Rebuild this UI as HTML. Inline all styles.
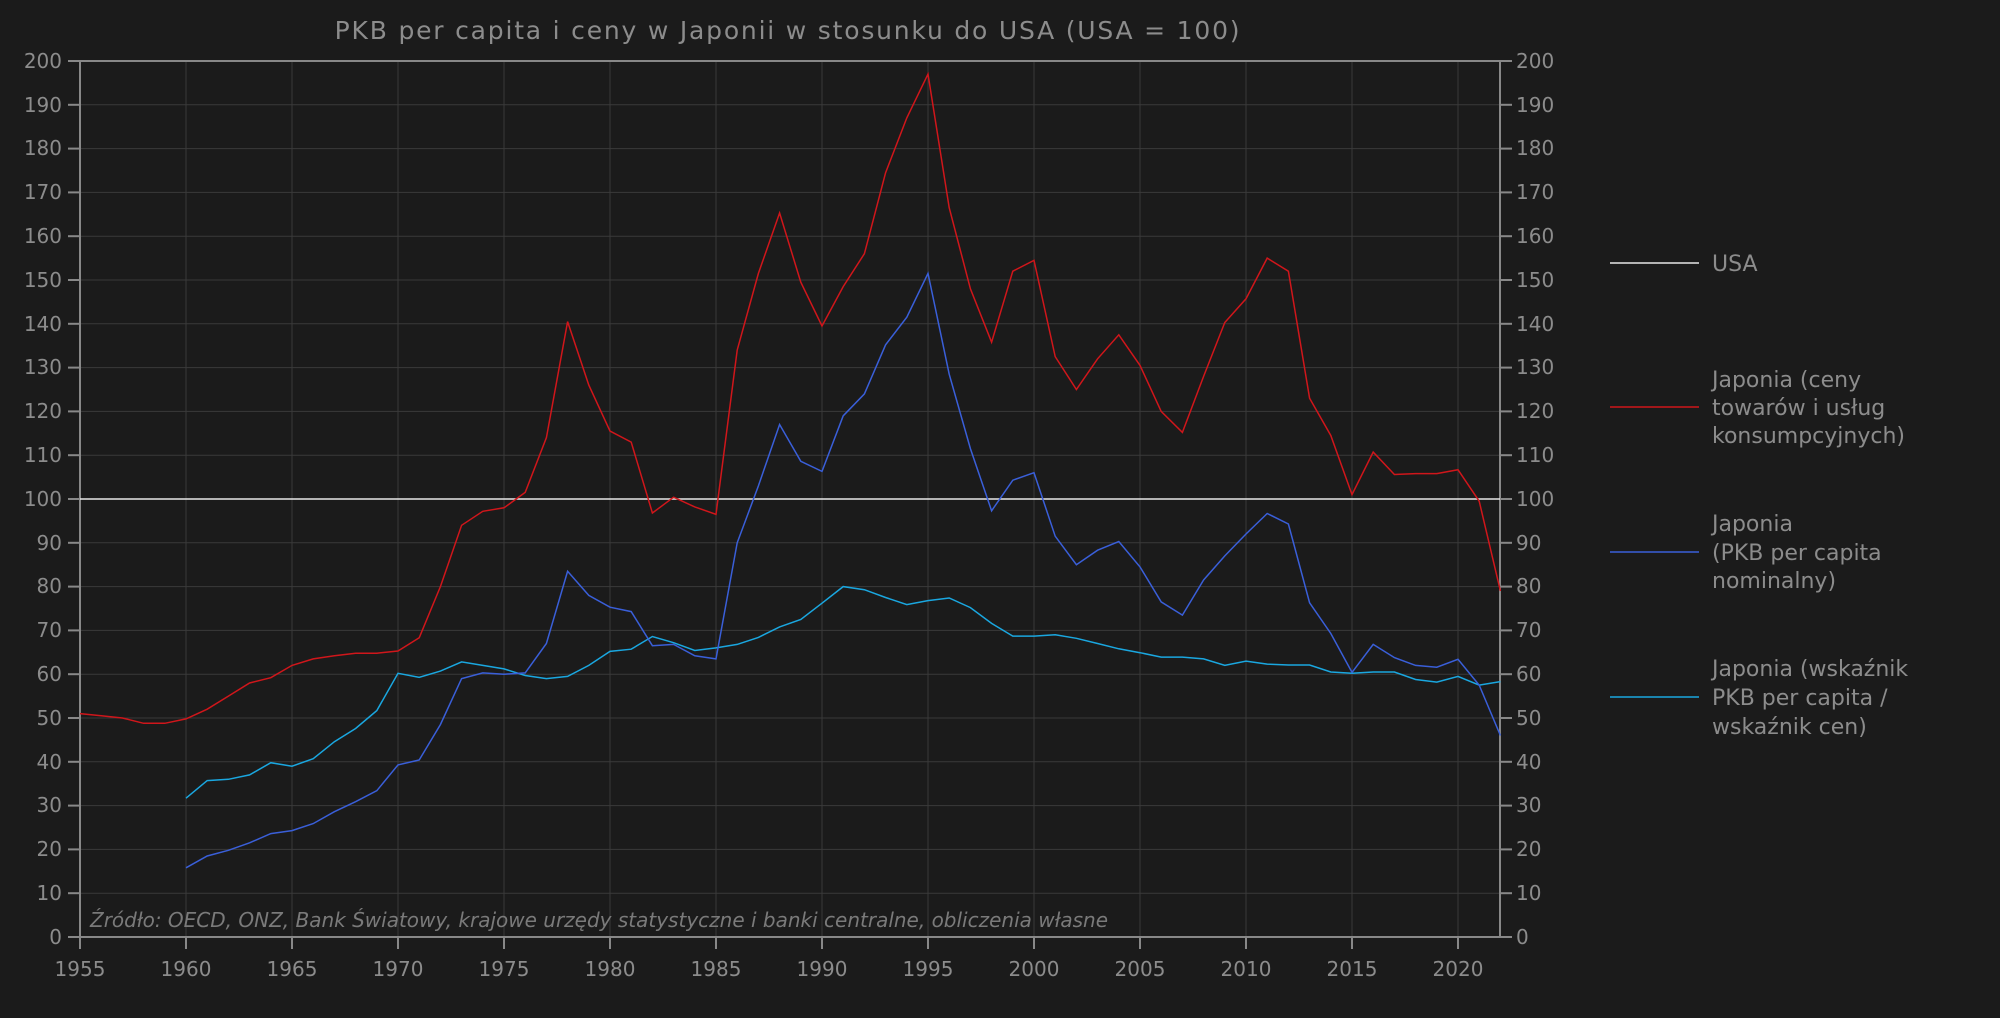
<!DOCTYPE html>
<html><head><meta charset="utf-8"><style>
html,body{margin:0;padding:0;background:#1b1b1b;}
svg{display:block;font-family:"DejaVu Sans","Liberation Sans",sans-serif;}
</style></head><body>
<svg id="s" width="2000" height="1018" viewBox="0 0 2000 1018">
<rect width="2000" height="1018" fill="#1b1b1b"/>
<g id="grid" stroke="#3a3a3a" stroke-width="1"></g>
<text x="788" y="39" text-anchor="middle" fill="#8c8c8c" font-size="25" letter-spacing="1.8">PKB per capita i ceny w Japonii w stosunku do USA (USA = 100)</text>
<g fill="#8c8c8c" font-size="20" text-anchor="end">
<text x="62" y="68">200</text><text x="62" y="112">190</text><text x="62" y="155">180</text><text x="62" y="199">170</text><text x="62" y="243">160</text><text x="62" y="287">150</text><text x="62" y="331">140</text><text x="62" y="374">130</text><text x="62" y="418">120</text><text x="62" y="462">110</text><text x="62" y="506">100</text><text x="62" y="550">90</text><text x="62" y="593">80</text><text x="62" y="637">70</text><text x="62" y="681">60</text><text x="62" y="725">50</text><text x="62" y="769">40</text><text x="62" y="812">30</text><text x="62" y="856">20</text><text x="62" y="900">10</text><text x="62" y="944">0</text>
</g>
<g fill="#8c8c8c" font-size="20" text-anchor="start">
<text x="1516" y="68">200</text><text x="1516" y="112">190</text><text x="1516" y="155">180</text><text x="1516" y="199">170</text><text x="1516" y="243">160</text><text x="1516" y="287">150</text><text x="1516" y="331">140</text><text x="1516" y="374">130</text><text x="1516" y="418">120</text><text x="1516" y="462">110</text><text x="1516" y="506">100</text><text x="1516" y="550">90</text><text x="1516" y="593">80</text><text x="1516" y="637">70</text><text x="1516" y="681">60</text><text x="1516" y="725">50</text><text x="1516" y="769">40</text><text x="1516" y="812">30</text><text x="1516" y="856">20</text><text x="1516" y="900">10</text><text x="1516" y="944">0</text>
</g>
<g fill="#8c8c8c" font-size="20" text-anchor="middle">
<text x="80" y="976">1955</text><text x="186" y="976">1960</text><text x="292" y="976">1965</text><text x="398" y="976">1970</text><text x="504" y="976">1975</text><text x="610" y="976">1980</text><text x="716" y="976">1985</text><text x="822" y="976">1990</text><text x="928" y="976">1995</text><text x="1034" y="976">2000</text><text x="1140" y="976">2005</text><text x="1246" y="976">2010</text><text x="1352" y="976">2015</text><text x="1458" y="976">2020</text>
</g>
<g id="axes" stroke="#888" stroke-width="2" fill="none"></g>
<text x="90" y="927" fill="#7a7a7a" font-size="20" font-style="italic">Źródło: OECD, ONZ, Bank Światowy, krajowe urzędy statystyczne i banki centralne, obliczenia własne</text>
<line x1="80" y1="499" x2="1500" y2="499" stroke="#e8e8e8" stroke-width="1.5"/>
<polyline id="cy" fill="none" stroke="#1aa7e0" stroke-width="1.5"/>
<polyline id="bl" fill="none" stroke="#3a5fd9" stroke-width="1.5"/>
<polyline id="rd" fill="none" stroke="#d0161b" stroke-width="1.5"/>
<g font-size="22" fill="#8c8c8c">
<line x1="1610" y1="263" x2="1699" y2="263" stroke="#e8e8e8" stroke-width="1.5"/>
<text x="1712" y="271">USA</text>
<line x1="1610" y1="407" x2="1699" y2="407" stroke="#d0161b" stroke-width="1.5"/>
<text x="1712" y="387">Japonia (ceny</text><text x="1712" y="415">towarów i usług</text><text x="1712" y="443">konsumpcyjnych)</text>
<line x1="1610" y1="552" x2="1699" y2="552" stroke="#3a5fd9" stroke-width="1.5"/>
<text x="1712" y="531">Japonia</text><text x="1712" y="560">(PKB per capita</text><text x="1712" y="588">nominalny)</text>
<line x1="1610" y1="697" x2="1699" y2="697" stroke="#1aa7e0" stroke-width="1.5"/>
<text x="1712" y="676">Japonia (wskaźnik</text><text x="1712" y="705">PKB per capita /</text><text x="1712" y="734">wskaźnik cen)</text>
</g>
</svg>
<script>
var X=function(y){return 80+(y-1955)*21.2},Y=function(v){return 937-v*4.38};
var ns="http://www.w3.org/2000/svg";
function L(g,x1,y1,x2,y2){var l=document.createElementNS(ns,"line");l.setAttribute("x1",x1);l.setAttribute("y1",y1);l.setAttribute("x2",x2);l.setAttribute("y2",y2);document.getElementById(g).appendChild(l);}
for(var v=10;v<=190;v+=10)L("grid",80,Y(v),1500,Y(v));
for(var y=1960;y<=2020;y+=5)L("grid",X(y),61,X(y),937);
L("axes",80,61,1500,61);L("axes",80,61,80,937);L("axes",1500,61,1500,937);L("axes",68,937,1512,937);
for(var v=0;v<=200;v+=10){L("axes",68,Y(v),80,Y(v));L("axes",1500,Y(v),1512,Y(v));}
for(var y=1955;y<=2020;y+=5)L("axes",X(y),937,X(y),949);
var rd=[51,50.5,50,48.8,48.8,49.8,52,55,58,59.2,62,63.5,64.2,64.8,64.8,65.3,68.3,80,94,97.2,98,101.5,114,140.5,126,115.5,113,96.8,100.4,98.2,96.5,134,151.5,165.3,149.5,139.5,148.5,156,174.5,187,197,166.5,148,135.8,152,154.5,132.5,125,132,137.5,130.5,120,115.2,128,140.3,145.7,155,152,123,114.5,101,110.7,105.6,105.8,105.8,106.7,99.5,79];
var bl=[15.8,18.5,19.8,21.5,23.6,24.3,25.9,28.6,30.9,33.4,39.3,40.4,48.5,59,60.3,60,60.3,67,83.5,78,75.3,74.3,66.5,66.8,64.2,63.5,90,103,117,108.6,106.3,119,124,135.2,141.5,151.5,128.5,111.5,97.3,104.3,106,91.5,85,88.3,90.3,84.5,76.5,73.5,81.5,87,92,96.7,94.3,76.3,69.3,60.4,66.8,63.8,62,61.6,63.4,57.5,46];
var cy=[31.7,35.7,36,37,39.8,39,40.7,44.6,47.6,51.7,60.2,59.3,60.7,62.8,62,61.2,59.7,59,59.5,62,65.2,65.7,68.6,67.2,65.4,66,66.8,68.4,70.8,72.5,76.2,80,79.3,77.5,75.9,76.8,77.4,75.2,71.6,68.7,68.7,69,68.2,67,65.8,64.9,63.9,63.9,63.5,62,63,62.3,62.1,62.1,60.5,60.2,60.5,60.5,58.8,58.2,59.5,57.5,58.3];
function P(id,d,s){document.getElementById(id).setAttribute("points",d.map(function(v,i){return X(s+i).toFixed(1)+","+Y(v).toFixed(1)}).join(" "));}
P("rd",rd,1955);P("bl",bl,1960);P("cy",cy,1960);
</script>
</body></html>
